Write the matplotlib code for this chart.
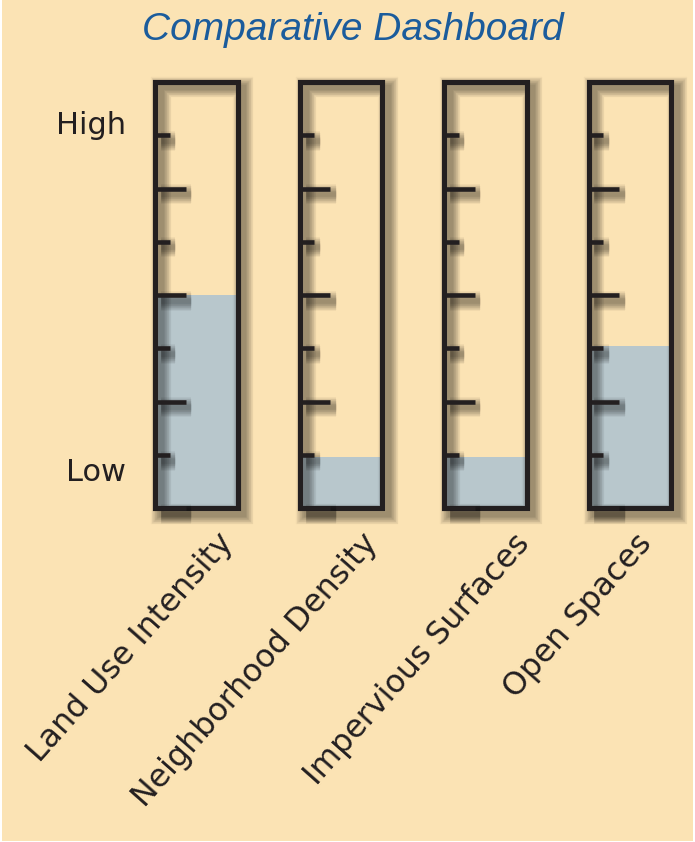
import matplotlib
matplotlib.use("Agg")
import matplotlib.pyplot as plt
from matplotlib.patches import Rectangle
from matplotlib import patheffects as pe

# Gauge data (percent of gauge height)
categories = ["Land Use Intensity", "Neighborhood Density",
              "Impervious Surfaces", "Open Spaces"]
levels = [50, 12, 12, 38]
tick_values = [0, 12.5, 25, 37.5, 50, 62.5, 75, 87.5]
scale_labels = ["Low", "High"]
scale_label_values = [6.5, 87.7]

# Styling / layout
BG = "#FBE3B4"
INK = "#231F20"
FILL = "#B8C7CC"
TITLE_C = "#1B5C9C"
half_w = 0.284
tick_short = 0.098
tick_long = 0.21
label_dx = [0.262, 0.263, 0.317, 0.161]
label_y = -8.3


def shadow(lw):
    fx = []
    for k in range(12):
        fx.append(pe.Stroke(offset=(4.0, -4.0), linewidth=lw + 1.0 * k,
                            foreground="black", alpha=0.035))
    fx.append(pe.Normal())
    return fx


fig = plt.figure(figsize=(6.95, 8.42), dpi=100, facecolor="white")
fig.patches.append(Rectangle((2 / 695, 1 / 842), 691 / 695, 841 / 842,
                             transform=fig.transFigure, facecolor=BG,
                             edgecolor="none", zorder=-10))
ax = fig.add_axes([0, 0, 1, 1])
ax.set_zorder(1)
ax.set_xlim(-1.360, 3.450)
ax.set_ylim(-78.2, 119.2)
ax.axis("off")

for i, (cat, lvl) in enumerate(zip(categories, levels)):
    # liquid level
    ax.add_patch(Rectangle((i - half_w, 0), 2 * half_w, lvl,
                           facecolor=FILL, edgecolor="none", zorder=1))
    # gauge frame
    ax.add_patch(Rectangle((i - half_w, 0), 2 * half_w, 100,
                           facecolor="none", edgecolor=INK, lw=3.7,
                           joinstyle="miter", zorder=3,
                           path_effects=shadow(3.7)))
    # scale ticks on the left wall
    for j, tv in enumerate(tick_values):
        ln = tick_long if j % 2 == 0 else tick_short
        ax.plot([i - half_w, i - half_w + ln], [tv, tv], color=INK,
                lw=3.3, solid_capstyle="butt", zorder=3,
                path_effects=shadow(3.3))
    ax.text(i + label_dx[i], label_y, cat, rotation=48.5,
            rotation_mode="anchor", ha="right", va="baseline",
            fontsize=22.8, color=INK, family="DejaVu Sans")

for txt, v in zip(scale_labels, scale_label_values):
    ax.text(-0.488, v, txt, ha="right", va="baseline", fontsize=22,
            color=INK, family="DejaVu Sans")

fig.text(0.507, 1 - 40 / 842, "Comparative Dashboard", ha="center",
         va="baseline", fontsize=28, fontstyle="italic",
         family="Liberation Sans", color=TITLE_C)

fig.savefig("out.png", dpi=100, facecolor=fig.get_facecolor())
